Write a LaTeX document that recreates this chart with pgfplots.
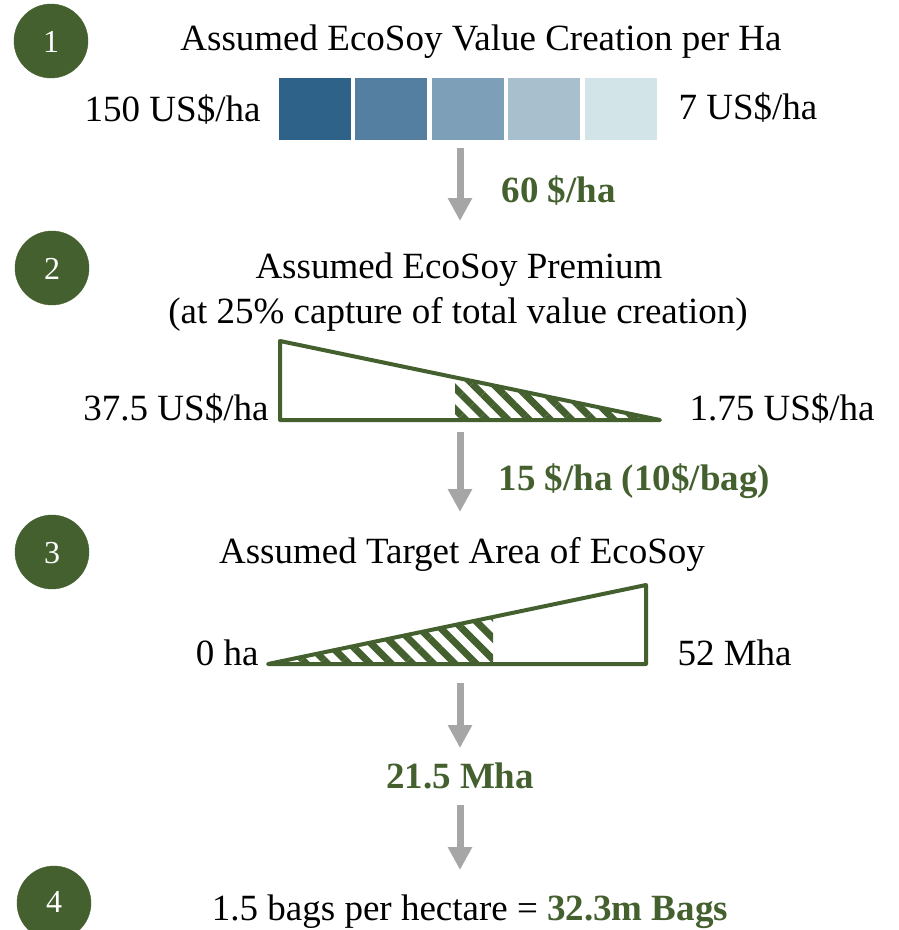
\documentclass[border=0pt]{standalone}
\usepackage{fontspec}
\setmainfont{Liberation Serif}
\usepackage{pgfplots}
\pgfplotsset{compat=1.18}
\usetikzlibrary{arrows.meta,patterns.meta}
\definecolor{ecogreen}{RGB}{67,96,46}
\definecolor{arrowgray}{RGB}{166,166,166}
\definecolor{bA}{HTML}{2E6289}
\definecolor{bB}{HTML}{557FA0}
\definecolor{bC}{HTML}{7D9FB8}
\definecolor{bD}{HTML}{A8BFCE}
\definecolor{bE}{HTML}{D3E4E9}
\newcommand{\bigtxt}{\fontsize{37}{44}\selectfont}
\begin{document}
\begin{tikzpicture}
\begin{axis}[width=898pt,height=930pt,scale only axis,
  xmin=0,xmax=898,ymin=0,ymax=930,y dir=reverse,hide axis,clip=false]
% circles
\addplot[only marks, mark=*, mark size=37pt, color=ecogreen]
  coordinates {(51,41) (52,268) (52,552) (54,903)};
\coordinate (n1) at (axis cs:51,53);
\coordinate (n2) at (axis cs:52,280);
\coordinate (n3) at (axis cs:52,564);
\coordinate (n4) at (axis cs:54,913);
% section 1
\node[anchor=base, font=\bigtxt] at (axis cs:481,50) {Assumed EcoSoy Value Creation per Ha};
\addplot[fill=bA, draw=none] coordinates {(279,78) (351,78) (351,140) (279,140)} -- cycle;
\addplot[fill=bB, draw=none] coordinates {(355,78) (427,78) (427,140) (355,140)} -- cycle;
\addplot[fill=bC, draw=none] coordinates {(432,78) (504,78) (504,140) (432,140)} -- cycle;
\addplot[fill=bD, draw=none] coordinates {(508,78) (580,78) (580,140) (508,140)} -- cycle;
\addplot[fill=bE, draw=none] coordinates {(585,78) (657,78) (657,140) (585,140)} -- cycle;
\node[anchor=base east, font=\bigtxt] at (axis cs:264,121) {150 US\$/ha};
\node[anchor=base west, font=\bigtxt] at (axis cs:675,119) {7 US\$/ha};
\addplot[arrowgray, line width=7pt, -{Triangle[width=23pt,length=23pt]}]
  coordinates {(460,148) (460,221)};
\node[anchor=base west, font=\bigtxt\bfseries, text=ecogreen] at (axis cs:498,202) {60 \$/ha};
% section 2
\node[anchor=base, font=\bigtxt] at (axis cs:459,278) {Assumed EcoSoy Premium};
\node[anchor=base, font=\bigtxt] at (axis cs:458,323) {(at 25\% capture of total value creation)};
\addplot[draw=none, pattern={Lines[angle=-45,distance=15pt,line width=7pt]}, pattern color=ecogreen]
  coordinates {(455,377.4) (660,420) (455,420)} -- cycle;
\addplot[ecogreen, line width=4pt, line join=round]
  coordinates {(280,341) (660,420) (280,420)} -- cycle;
\node[anchor=base east, font=\bigtxt] at (axis cs:272,420) {37.5 US\$/ha};
\node[anchor=base west, font=\bigtxt] at (axis cs:686,420) {1.75 US\$/ha};
\addplot[arrowgray, line width=7pt, -{Triangle[width=23pt,length=23pt]}]
  coordinates {(460,432) (460,512)};
\node[anchor=base west, font=\bigtxt\bfseries, text=ecogreen] at (axis cs:495,490) {15 \$/ha (10\$/bag)};
% section 3
\node[anchor=base, font=\bigtxt] at (axis cs:462,563) {Assumed Target Area of EcoSoy};
\addplot[draw=none, pattern={Lines[angle=-45,distance=15pt,line width=7pt]}, pattern color=ecogreen]
  coordinates {(268,664) (493,617) (493,664)} -- cycle;
\addplot[ecogreen, line width=4pt, line join=round]
  coordinates {(268,664) (646,585) (646,664)} -- cycle;
\node[anchor=base east, font=\bigtxt] at (axis cs:262,665) {0 ha};
\node[anchor=base west, font=\bigtxt] at (axis cs:674,665) {52 Mha};
\addplot[arrowgray, line width=7pt, -{Triangle[width=23pt,length=23pt]}]
  coordinates {(460,683) (460,748)};
\node[anchor=base, font=\bigtxt\bfseries, text=ecogreen] at (axis cs:460,788) {21.5 Mha};
\addplot[arrowgray, line width=7pt, -{Triangle[width=23pt,length=23pt]}]
  coordinates {(460,805) (460,870)};
% section 4
\node[anchor=base, font=\bigtxt] at (axis cs:470,920) {1.5 bags per hectare = \textcolor{ecogreen}{\bfseries 32.3m Bags}};
\end{axis}
\foreach \n/\t in {n1/1,n2/2,n3/3,n4/4}
  \node[anchor=base, text=white, font=\fontsize{32}{38}\selectfont] at (\n) {\t};
\pgfresetboundingbox
\path[use as bounding box] (current axis.south west) rectangle (current axis.north east);
\end{tikzpicture}
\end{document}
